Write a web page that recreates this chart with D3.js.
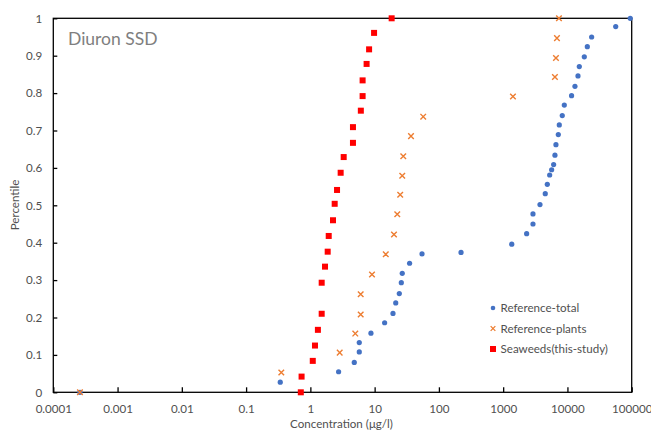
<!DOCTYPE html>
<html lang="en">
<head>
  <meta charset="UTF-8">
  <title>Diuron SSD</title>
  <script src="https://d3js.org/d3.v7.min.js"></script>
  <style>
    body { margin: 0; background: #fff; font-family: Lato, "Open Sans", Arial, sans-serif; }
    svg text { fill: #505050; }
  </style>
</head>
<body>
  <div id="chart"></div>
  <script>
    // Data (concentration in ug/l, percentile)
    const totalConc = [0.00026, 0.34, 2.75, 4.82, 5.77, 5.77, 8.77, 14.3, 19.3, 21.3, 24.2, 26, 26.9, 35, 54.6,
      221, 1360, 2320, 2910, 2910, 3740, 4520, 4860, 5290, 5680, 6100, 6390, 6630, 7210, 7470, 8310, 8940,
      11600, 13100, 14600, 15300, 18300, 20400, 23800, 56400, 95000];
    const totalPct = [0, 0.027, 0.055, 0.080, 0.108, 0.133, 0.158, 0.186, 0.211, 0.239, 0.264, 0.293, 0.318, 0.345, 0.370,
      0.374, 0.396, 0.424, 0.450, 0.477, 0.502, 0.531, 0.556, 0.581, 0.595, 0.609, 0.634, 0.662, 0.689, 0.715, 0.740, 0.768,
      0.793, 0.818, 0.846, 0.871, 0.897, 0.924, 0.950, 0.978, 1.0];

    const plantsConc = [0.00026, 0.353, 2.86, 5.0, 6.07, 6.07, 9.1, 14.9, 20, 22.5, 25, 26.9, 27.9, 36.8, 57,
      1420, 6390, 6630, 6870, 7380];
    const plantsPct = [0, 0.053, 0.106, 0.157, 0.208, 0.262, 0.315, 0.369, 0.422, 0.476, 0.528, 0.579, 0.631, 0.685, 0.737,
      0.791, 0.843, 0.894, 0.947, 1.0];

    const seaweedConc = [0.71, 0.73, 1.09, 1.18, 1.31, 1.50, 1.50, 1.69, 1.86, 1.93, 2.25, 2.39, 2.6, 2.96, 3.3,
      4.6, 4.6, 6.1, 6.5, 6.5, 7.5, 8.2, 9.8, 18.4];
    const seaweedPct = [0, 0.042, 0.084, 0.125, 0.167, 0.210, 0.293, 0.336, 0.376, 0.418, 0.460, 0.504, 0.541, 0.587, 0.629,
      0.667, 0.709, 0.753, 0.792, 0.834, 0.878, 0.917, 0.961, 1.0];

    const xTicks = [0.0001, 0.001, 0.01, 0.1, 1, 10, 100, 1000, 10000, 100000];
    const yTicks = d3.range(0, 11).map(i => i / 10);
    const seriesNames = ["Reference-total", "Reference-plants", "Seaweeds(this-study)"];

    const width = 651, height = 435;
    const margin = { top: 18.3, right: 19.3, bottom: 42.7, left: 53.3 };
    const fontSize = 11.6;

    const svg = d3.select("#chart").append("svg").attr("width", width).attr("height", height);

    const x = d3.scaleLog().domain([0.0001, 100000]).range([margin.left, width - margin.right]);
    const y = d3.scaleLinear().domain([0, 1]).range([height - margin.bottom, margin.top]);

    // frame
    svg.append("rect")
      .attr("x", margin.left).attr("y", margin.top)
      .attr("width", width - margin.left - margin.right)
      .attr("height", height - margin.top - margin.bottom)
      .attr("fill", "none").attr("stroke", "#000").attr("stroke-width", 1.3);

    // axes (ticks point inward)
    const xAxis = svg.append("g").attr("transform", `translate(0,${y(0)})`)
      .call(d3.axisBottom(x).tickValues(xTicks).tickSize(-5).tickPadding(12)
        .tickFormat(d => d3.format("~f")(d)));
    const yAxis = svg.append("g").attr("transform", `translate(${x(0.0001)},0)`)
      .call(d3.axisLeft(y).tickValues(yTicks).tickSize(-4).tickPadding(11)
        .tickFormat(d => d3.format("~g")(d)));
    [xAxis, yAxis].forEach(a => {
      a.select(".domain").remove();
      a.selectAll("line").attr("stroke", "#000").attr("stroke-width", 1.3);
      a.selectAll("text").attr("font-family", "Lato, 'Open Sans', Arial, sans-serif").attr("font-size", fontSize).attr("fill", "#505050");
    });

    // axis titles
    svg.append("text").attr("x", 341.5).attr("y", 428).attr("text-anchor", "middle")
      .attr("font-size", fontSize).text("Concentration (μg/l)");
    svg.append("text").attr("transform", `translate(19,205) rotate(-90)`).attr("text-anchor", "middle")
      .attr("font-size", fontSize).text("Percentile");

    // title inside plot
    svg.append("text").attr("x", 68).attr("y", 45).attr("font-size", 17.5)
      .style("fill", "#7f7f7f").text("Diuron SSD");

    const g = svg.append("g");
    const total = totalConc.map((c, i) => ({ c, p: totalPct[i] }));
    const plants = plantsConc.map((c, i) => ({ c, p: plantsPct[i] }));
    const seaweed = seaweedConc.map((c, i) => ({ c, p: seaweedPct[i] }));

    const cross = d3.symbol().type(d3.symbolX).size(22);

    g.selectAll(".total").data(total).enter().append("circle")
      .attr("cx", d => x(d.c)).attr("cy", d => y(d.p)).attr("r", 2.6)
      .attr("fill", "#4472C4");

    g.selectAll(".plants").data(plants).enter().append("path")
      .attr("d", cross).attr("transform", d => `translate(${x(d.c)},${y(d.p)})`)
      .attr("fill", "none").attr("stroke", "#ED7D31").attr("stroke-width", 1.4);

    g.selectAll(".seaweed").data(seaweed).enter().append("rect")
      .attr("x", d => x(d.c) - 3).attr("y", d => y(d.p) - 3)
      .attr("width", 6).attr("height", 6).attr("fill", "#FF0000");

    // legend
    const legend = svg.append("g").attr("transform", "translate(493,308)");
    seriesNames.forEach((name, i) => {
      const row = legend.append("g").attr("transform", `translate(0,${i * 20.5})`);
      if (i === 0) row.append("circle").attr("r", 2.3).attr("fill", "#4472C4");
      if (i === 1) row.append("path").attr("d", d3.symbol().type(d3.symbolX).size(16)).attr("fill", "none")
        .attr("stroke", "#ED7D31").attr("stroke-width", 1.3);
      if (i === 2) row.append("rect").attr("x", -3).attr("y", -3).attr("width", 6).attr("height", 6).attr("fill", "#FF0000");
      row.append("text").attr("x", 7.5).attr("y", 4.3).attr("font-size", fontSize).text(name);
    });
  </script>
</body>
</html>
